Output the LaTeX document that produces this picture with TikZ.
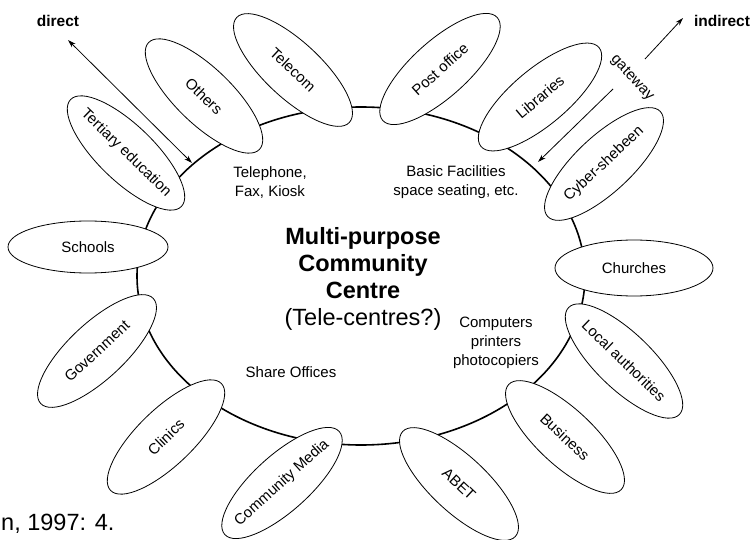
\documentclass[tikz,border=0pt]{standalone}
\usepackage{fontspec}
\setmainfont{Liberation Sans}
\usetikzlibrary{shapes.geometric,arrows.meta}
\begin{document}
\begin{tikzpicture}[x=1pt,y=-1pt,
  pill/.style={draw, ellipse, fill=white, line width=0.8pt, inner sep=0pt, minimum width=154pt, minimum height=56pt},
  flat/.style={pill, minimum width=160pt, minimum height=52pt},
  lbl/.style={font=\fontsize{15}{17}\selectfont, inner sep=0pt},
  note/.style={font=\fontsize{15}{19}\selectfont, align=center, inner sep=0pt},
  big/.style={font=\fontsize{23.5}{27}\selectfont, align=center, inner sep=0pt},
  ringstyle/.style={draw, ellipse, line width=1.6pt, inner sep=0pt, minimum width=448pt, minimum height=338pt},
  arr/.style={line width=0.8pt, -{Stealth[length=8pt,width=5pt]}},
]
\useasboundingbox (0,0) rectangle (753,540);
% central ring
\node[ringstyle] (ring) at (361,276) {};
% satellites
\node[pill, rotate=-43] (telecom) at (293,70) {};
\node[pill, rotate=-44] (others) at (204,96) {};
\node[pill, rotate=-44] (tert) at (126,153) {};
\node[flat] (schools) at (88,247) {};
\node[pill, rotate=43] (gov) at (97,351) {};
\node[pill, rotate=44] (clinics) at (166,437) {};
\node[pill, rotate=42] (cmedia) at (282,483) {};
\node[pill, rotate=-43] (abet) at (459,484) {};
\node[pill, rotate=-43] (business) at (565,437) {};
\node[pill, rotate=-44] (local) at (624,361) {};
\node[flat, minimum width=158pt, minimum height=56pt] (churches) at (634,268) {};
\node[pill, rotate=43] (cyber) at (604,164) {};
\node[pill, rotate=40] (libraries) at (540,97) {};
\node[pill, rotate=42] (post) at (440,69) {};
% labels
\node[lbl, rotate=-43] at (telecom) {Telecom};
\node[lbl, rotate=-44] at (others) {Others};
\node[lbl, rotate=-44] at (tert) {Tertiary education};
\node[lbl] at (schools) {Schools};
\node[lbl, rotate=43] at (gov) {Government};
\node[lbl, rotate=44] at (clinics) {Clinics};
\node[lbl, rotate=42] at (cmedia) {Community Media};
\node[lbl, rotate=-43] at (abet) {ABET};
\node[lbl, rotate=-43] at (business) {Business};
\node[lbl, rotate=-44] at (local) {Local authorities};
\node[lbl] at (churches) {Churches};
\node[lbl, rotate=43] at (cyber) {Cyber-shebeen};
\node[lbl, rotate=40] at (libraries) {Libraries};
\node[lbl, rotate=42] at (post) {Post office};
% inner texts
\node[note] (tel) at (270,182.5) {Telephone,\\Fax, Kiosk};
\node[note] (basic) at (456,182.5) {Basic Facilities\\space seating, etc.};
\node[big] (centre) at (363,279) {\textbf{Multi-purpose}\\\textbf{Community}\\\textbf{Centre}\\(Tele-centres?)};
\node[note] (comp) at (496,343) {Computers\\printers\\photocopiers};
\node[note] (share) at (291,372) {Share Offices};
% arrows and outer labels
\node[font=\bfseries\fontsize{15.5}{17}\selectfont, inner sep=0pt] (direct) at (58,21) {direct};
\node[font=\bfseries\fontsize{15.5}{17}\selectfont, inner sep=0pt] (indirect) at (722,21) {indirect};
\node[lbl, rotate=-47] (gate) at (632,78) {gateway};
\coordinate (dA) at (68,40);
\coordinate (dB) at (192,163);
\draw[line width=0.8pt, {Stealth[length=8pt,width=5pt]}-{Stealth[length=8pt,width=5pt]}] (dA) -- (dB);
\coordinate (iA) at (645,59);
\coordinate (iB) at (683,18);
\draw[arr] (iA) -- (iB);
\coordinate (gA) at (613,89);
\coordinate (gB) at (538,162);
\draw[arr] (gA) -- (gB);
% caption fragment
\node[font=\fontsize{23.5}{28}\selectfont, anchor=base west, inner sep=0pt] (cap) at (1,530) {n, 1997: 4.};
\end{tikzpicture}
\end{document}
